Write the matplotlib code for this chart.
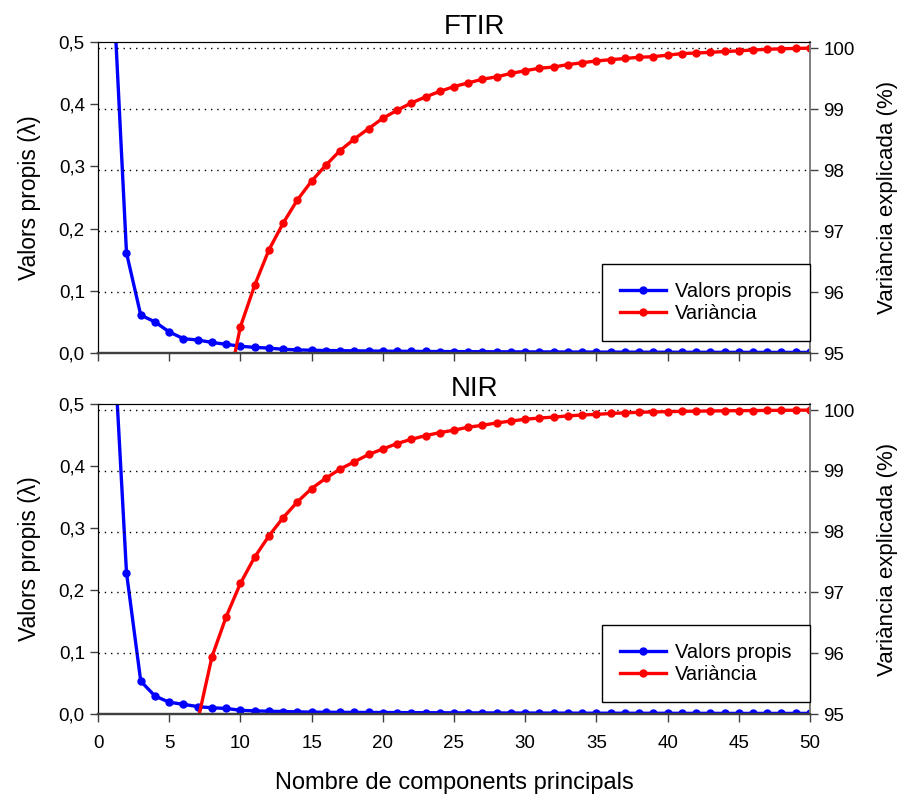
import matplotlib
matplotlib.use("Agg")
import matplotlib.pyplot as plt
from matplotlib.ticker import FuncFormatter

plt.rcParams["font.family"] = ["Liberation Sans", "DejaVu Sans"]

# --- data ---
components = list(range(1, 51))

ftir_eigen = [0.62, 0.161, 0.061, 0.050, 0.034, 0.023, 0.021, 0.017, 0.014, 0.011,
              0.009, 0.008, 0.006, 0.005, 0.0045, 0.004, 0.0038, 0.0035, 0.0033, 0.003,
              0.0028, 0.0027, 0.0025, 0.0024, 0.0023, 0.0022, 0.0021, 0.002, 0.0019, 0.0018,
              0.0018, 0.0017, 0.0016, 0.0016, 0.0015, 0.0015, 0.0014, 0.0014, 0.0013, 0.0013,
              0.0012, 0.0012, 0.0012, 0.0011, 0.0011, 0.0011, 0.001, 0.001, 0.001, 0.001]
ftir_var_x = list(range(9, 51))
ftir_var = [94.30, 95.43, 96.11, 96.69, 97.13, 97.51, 97.82, 98.08, 98.32, 98.51,
            98.68, 98.85, 98.98, 99.10, 99.20, 99.29, 99.37, 99.43, 99.49, 99.53,
            99.585, 99.63, 99.67, 99.69, 99.73, 99.76, 99.79, 99.81, 99.83, 99.85,
            99.86, 99.885, 99.91, 99.92, 99.93, 99.945, 99.955, 99.97, 99.98, 99.99,
            99.995, 100.0]

nir_eigen = [0.65, 0.228, 0.053, 0.029, 0.019, 0.0156, 0.012, 0.010, 0.009, 0.006,
             0.005, 0.0045, 0.004, 0.0035, 0.003, 0.0029, 0.0027, 0.0026, 0.0025, 0.0024,
             0.0023, 0.0022, 0.0021, 0.002, 0.0019, 0.0018, 0.0018, 0.0017, 0.0016, 0.0016,
             0.0015, 0.0015, 0.0014, 0.0014, 0.0013, 0.0013, 0.0013, 0.0012, 0.0012, 0.0012,
             0.0011, 0.0011, 0.0011, 0.001, 0.001, 0.001, 0.001, 0.001, 0.001, 0.001]
nir_var_x = list(range(7, 51))
nir_var = [94.88, 95.94, 96.60, 97.15, 97.58, 97.93, 98.23, 98.49, 98.71, 98.88,
           99.03, 99.15, 99.27, 99.36, 99.45, 99.52, 99.58, 99.63, 99.67, 99.72,
           99.75, 99.79, 99.82, 99.85, 99.87, 99.885, 99.905, 99.92, 99.93, 99.945,
           99.955, 99.965, 99.97, 99.975, 99.98, 99.983, 99.986, 99.989, 99.991, 99.993,
           99.995, 99.997, 99.999, 100.0]

panels = [("FTIR", ftir_eigen, ftir_var_x, ftir_var),
          ("NIR", nir_eigen, nir_var_x, nir_var)]

left_ticks = [0.0, 0.1, 0.2, 0.3, 0.4, 0.5]
right_ticks = [95, 96, 97, 98, 99, 100]
x_ticks = list(range(0, 51, 5))

fig = plt.figure(figsize=(9.05, 7.96), dpi=100)
rects = [[0.1083, 0.5565, 0.7867, 0.3907], [0.1083, 0.1030, 0.7867, 0.3894]]
title_y = [0.9657, 0.511]

comma = FuncFormatter(lambda v, p: f"{v:.1f}".replace(".", ","))

for i, (name, eigen, vx, var) in enumerate(panels):
    ax = fig.add_axes(rects[i])
    ax2 = ax.twinx()

    l1, = ax.plot(components, eigen, color="#0000ff", lw=2.4, marker="o", ms=5,
                  label="Valors propis")
    l2, = ax2.plot(vx, var, color="#ff0000", lw=2.4, marker="o", ms=5,
                   label="Variància")

    ax.set_xlim(0, 50)
    ax.set_ylim(0, 0.5)
    ax2.set_ylim(95, 100.1)
    ax.set_xticks(x_ticks)
    ax.set_yticks(left_ticks)
    ax2.set_yticks(right_ticks)
    ax.yaxis.set_major_formatter(comma)

    # dotted grid follows the right-hand (variance) ticks
    for y in right_ticks[1:]:
        ax2.axhline(y, color="black", lw=1, ls=(0, (1, 3.5)), zorder=0)

    ax.tick_params(direction="out", length=6, width=1, labelsize=13.5, color="#404040")
    ax2.tick_params(direction="out", length=6, width=1, labelsize=13.5, color="#404040")
    if i == 0:
        ax.tick_params(axis="x", labelbottom=False)
    else:
        ax.tick_params(axis="x", pad=9)

    for a in (ax, ax2):
        a.spines["left"].set_color("black")
        a.spines["top"].set_color("black")
        a.spines["bottom"].set_color("#404040")
        a.spines["bottom"].set_linewidth(1.6)
        a.spines["right"].set_color("#808080")
        a.spines["right"].set_linewidth(1.3)

    ax.set_ylabel("Valors propis (λ)", fontsize=16.5, labelpad=13)
    ax2.set_ylabel("Variància explicada (%)", fontsize=16, labelpad=16)

    leg = ax2.legend(handles=[l1, l2], loc="lower right", bbox_to_anchor=(1.0, 0.039),
                     borderaxespad=0, fancybox=False, edgecolor="black", fontsize=14.5,
                     handlelength=2.3, handletextpad=0.45, borderpad=0.9,
                     labelspacing=0.15, framealpha=1)
    leg.get_frame().set_linewidth(1)

    fig.text(0.524, title_y[i], name, ha="center", va="center", fontsize=20)

fig.text(0.502, 0.016, "Nombre de components principals", ha="center", va="center",
         fontsize=17)

fig.savefig("out.png", dpi=100)
